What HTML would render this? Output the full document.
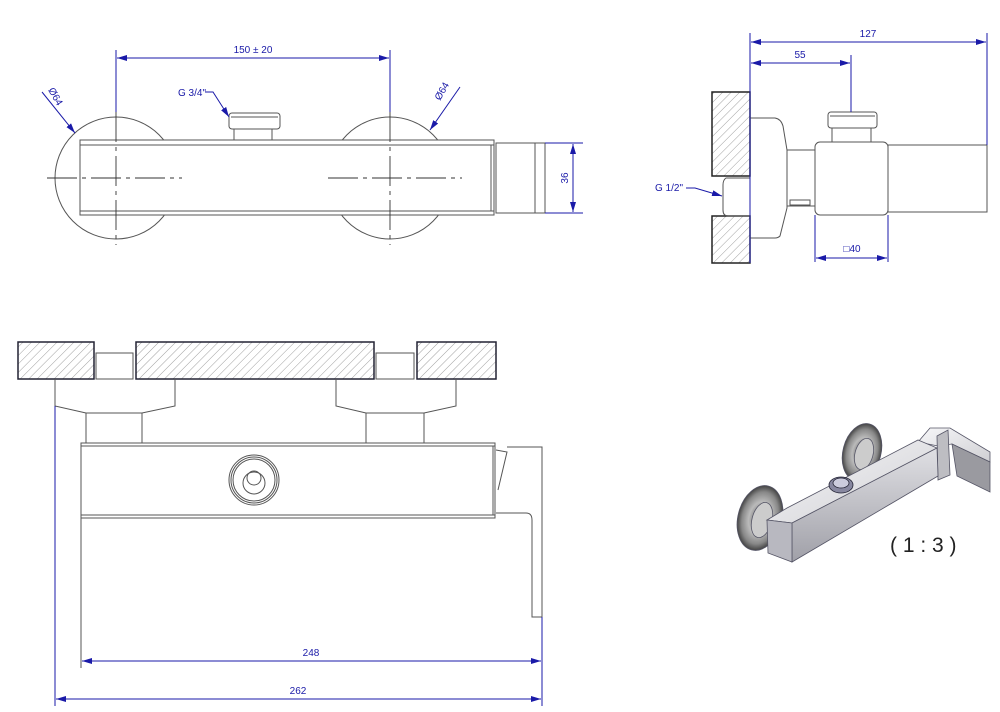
<!DOCTYPE html>
<html><head><meta charset="utf-8"><style>
html,body{margin:0;padding:0;background:#fff;}
svg{display:block;font-family:"Liberation Sans",Arial,sans-serif;}
</style></head><body>
<svg width="1000" height="712" viewBox="0 0 1000 712" xmlns="http://www.w3.org/2000/svg">
<defs>
<pattern id="h" patternUnits="userSpaceOnUse" width="6" height="6" patternTransform="rotate(45)">
<rect width="6" height="6" fill="#fff"/><line x1="0" y1="0" x2="0" y2="6" stroke="#888" stroke-width="0.8"/>
</pattern>
<marker id="a" viewBox="0 0 10 6" refX="10" refY="3" markerWidth="10" markerHeight="6" orient="auto-start-reverse" markerUnits="userSpaceOnUse"><path d="M0,0 L10,3 L0,6 z" fill="#1a1aa8"/></marker>
<linearGradient id="g1" x1="0" y1="0" x2="0" y2="1"><stop offset="0" stop-color="#e0e0e4"/><stop offset="1" stop-color="#a0a0a8"/></linearGradient>
<linearGradient id="g2" x1="0" y1="0" x2="1" y2="1"><stop offset="0" stop-color="#f6f6f8"/><stop offset="1" stop-color="#d0d0d4"/></linearGradient>
<radialGradient id="g3"><stop offset="0" stop-color="#555"/><stop offset="0.5" stop-color="#bbb"/><stop offset="0.8" stop-color="#888"/><stop offset="1" stop-color="#444"/></radialGradient>
</defs>
<g fill="none" stroke="#555" stroke-width="1">
<!-- TOP LEFT VIEW -->
<circle cx="116" cy="178" r="61"/>
<circle cx="390" cy="178" r="61"/>
<rect x="80" y="140" width="414" height="75" fill="#fff"/>
<line x1="80" y1="145" x2="494" y2="145"/><line x1="80" y1="211" x2="494" y2="211"/>
<line x1="491" y1="145" x2="491" y2="211"/>
<rect x="496" y="143" width="49" height="70"/><line x1="535" y1="143" x2="535" y2="213"/>
<rect x="229" y="113" width="51" height="16" rx="3"/><line x1="231" y1="117" x2="278" y2="117"/>
<line x1="234" y1="129" x2="234" y2="140"/><line x1="272" y1="129" x2="272" y2="140"/>
<g stroke="#333" stroke-dasharray="30,5,4,5" stroke-width="0.9">
<line x1="47" y1="178" x2="182" y2="178"/><line x1="328" y1="178" x2="462" y2="178"/>
<line x1="116" y1="112" x2="116" y2="245"/><line x1="390" y1="112" x2="390" y2="245"/>
</g>
<!-- TOP RIGHT VIEW -->
<rect x="712" y="92" width="38" height="84" fill="url(#h)" stroke="#222" stroke-width="1.5"/>
<rect x="712" y="216" width="38" height="47" fill="url(#h)" stroke="#222" stroke-width="1.5"/>
<path d="M750,118 L775,118 Q781,119 783,126 L787,150 L787,208 L780,236 Q778,238 775,238 L750,238"/>
<path d="M750,178 L726,178 Q723,180 723,185 L723,210 Q723,216 728,216 L750,216"/>
<rect x="787" y="150" width="28" height="56"/>
<rect x="790" y="200" width="20" height="5"/>
<rect x="815" y="142" width="73" height="73" rx="5"/>
<rect x="888" y="145" width="99" height="67"/>
<rect x="828" y="112" width="49" height="16" rx="3"/><line x1="830" y1="116" x2="875" y2="116"/>
<line x1="832" y1="128" x2="832" y2="142"/><line x1="871" y1="128" x2="871" y2="142"/>
<!-- BOTTOM VIEW -->
<rect x="18" y="342" width="76" height="37" fill="url(#h)" stroke="#223" stroke-width="1.5"/>
<rect x="136" y="342" width="238" height="37" fill="url(#h)" stroke="#223" stroke-width="1.5"/>
<rect x="417" y="342" width="79" height="37" fill="url(#h)" stroke="#223" stroke-width="1.5"/>
<rect x="96" y="353" width="37" height="26"/><rect x="376" y="353" width="38" height="26"/>
<path d="M55,379 L55,406 L86,413 L142,413 L175,406 L175,379"/>
<path d="M336,379 L336,406 L366,413 L424,413 L456,406 L456,379"/>
<rect x="86" y="413" width="56" height="30"/><rect x="366" y="413" width="58" height="30"/>
<rect x="81" y="443" width="414" height="75"/>
<line x1="81" y1="446" x2="495" y2="446"/><line x1="81" y1="515" x2="495" y2="515"/>
<line x1="493" y1="446" x2="493" y2="515"/>
<path d="M496,450 L507,452 L498,490 M507,447 L542,447 L542,617 L532,617 L532,520 Q532,513 526,513 L496,513"/>
<line x1="81" y1="518" x2="81" y2="668"/>
<circle cx="254" cy="480" r="25"/><circle cx="254" cy="480" r="23"/><circle cx="254" cy="480" r="21"/>
<circle cx="254" cy="483" r="11"/><circle cx="254" cy="478" r="7"/>
</g>
<!-- dimensions -->
<g stroke="#1a1aa8" stroke-width="1" fill="none">
<line x1="116" y1="50" x2="116" y2="112"/><line x1="390" y1="50" x2="390" y2="112"/>
<line x1="117" y1="58" x2="389" y2="58" marker-start="url(#a)" marker-end="url(#a)"/>
<line x1="545" y1="143" x2="583" y2="143"/><line x1="545" y1="213" x2="583" y2="213"/>
<line x1="573" y1="144" x2="573" y2="212" marker-start="url(#a)" marker-end="url(#a)"/>
<line x1="42" y1="92" x2="75" y2="133" marker-end="url(#a)"/>
<line x1="460" y1="87" x2="430" y2="130" marker-end="url(#a)"/>
<path d="M205,92 L213,92 L229,117" marker-end="url(#a)"/>
<line x1="750" y1="33" x2="750" y2="263"/><line x1="987" y1="33" x2="987" y2="145"/>
<line x1="851" y1="55" x2="851" y2="112"/>
<line x1="751" y1="42" x2="986" y2="42" marker-start="url(#a)" marker-end="url(#a)"/>
<line x1="751" y1="63" x2="850" y2="63" marker-start="url(#a)" marker-end="url(#a)"/>
<path d="M686,188 L695,188 L722,196" marker-end="url(#a)"/>
<line x1="815" y1="215" x2="815" y2="262"/><line x1="888" y1="215" x2="888" y2="262"/>
<line x1="816" y1="258" x2="887" y2="258" marker-start="url(#a)" marker-end="url(#a)"/>
<line x1="55" y1="406" x2="55" y2="706"/><line x1="542" y1="617" x2="542" y2="706"/>
<line x1="82" y1="661" x2="541" y2="661" marker-start="url(#a)" marker-end="url(#a)"/>
<line x1="56" y1="699" x2="541" y2="699" marker-start="url(#a)" marker-end="url(#a)"/>
</g>
<g fill="#1a1aa8" font-size="10">
<text x="253" y="53" text-anchor="middle">150 ± 20</text>
<text x="178" y="96">G 3/4"</text>
<text transform="translate(48,90) rotate(60)">Ø64</text>
<text transform="translate(440,101) rotate(-60)">Ø64</text>
<text transform="translate(568,178) rotate(-90)" text-anchor="middle">36</text>
<text x="868" y="37" text-anchor="middle">127</text>
<text x="800" y="58" text-anchor="middle">55</text>
<text x="655" y="191">G 1/2"</text>
<text x="852" y="252" text-anchor="middle">□40</text>
<text x="311" y="656" text-anchor="middle">248</text>
<text x="298" y="694" text-anchor="middle">262</text>
</g>
<!-- ISO -->
<g stroke="#556" stroke-width="0.8">
<ellipse cx="862" cy="452" rx="19" ry="29" transform="rotate(15 862 452)" fill="url(#g3)"/>
<ellipse cx="864" cy="454" rx="9" ry="16" transform="rotate(15 864 454)" fill="#ccc"/>
<polygon points="918,442 930,428 950,428 990,452 990,462 952,444 938,446" fill="url(#g2)"/>
<polygon points="952,444 990,462 990,492 957,476" fill="#9a9aa0"/>
<polygon points="937,436 948,430 950,475 938,480" fill="#bdbdc2"/>
<ellipse cx="760" cy="518" rx="22" ry="33" transform="rotate(15 760 518)" fill="url(#g3)"/>
<ellipse cx="762" cy="520" rx="10" ry="18" transform="rotate(15 762 520)" fill="#ccc"/>
<polygon points="767,520 787,508 918,440 937,448 792,523" fill="url(#g2)"/>
<polygon points="792,523 937,448 938,476 792,562" fill="url(#g1)"/>
<polygon points="767,520 792,523 792,562 768,553" fill="#b8b8c0"/>
<ellipse cx="841" cy="485" rx="12" ry="8" fill="#8888a0" stroke="#223"/>
<ellipse cx="841" cy="483" rx="8" ry="5" fill="#ccd" stroke="#223"/>
</g>
<text x="890" y="552" font-size="21" fill="#222">( 1 : 3 )</text>
</svg>
</body></html>
